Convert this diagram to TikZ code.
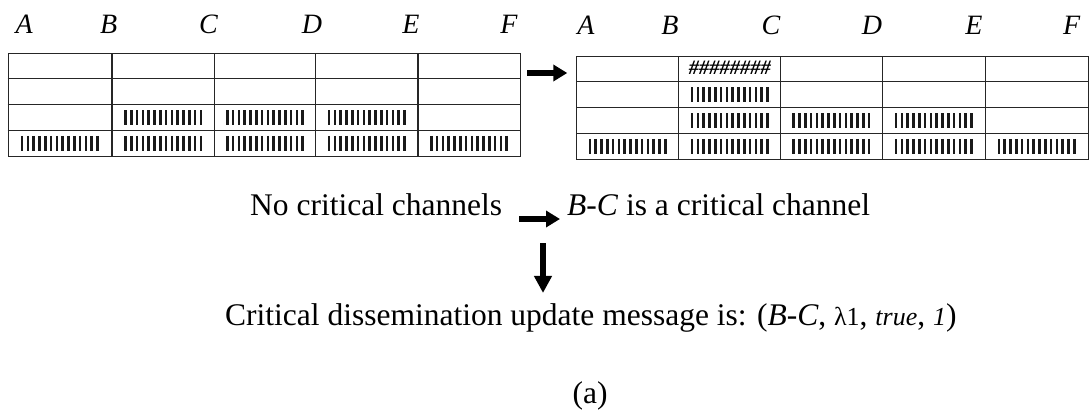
\documentclass[tikz,border=0pt]{standalone}
\usepackage{fontspec}
\setmainfont{Liberation Serif}
\usetikzlibrary{arrows.meta}
\tikzset{
  grid line/.style={line width=1.1pt, draw=black!85},
  table frame/.style={grid line, inner sep=0pt, anchor=north west},
  bar mark/.style={line width=2.6pt, black!90},
  col label/.style={font=\fontsize{28}{30}\selectfont\itshape, inner sep=0pt},
  body text/.style={font=\fontsize{31.5}{34}\selectfont, inner sep=0pt, anchor=base west},
  hash text/.style={font=\fontsize{20.5}{22}\selectfont\bfseries\itshape, inner sep=0pt},
  fat arrow/.style={line width=5.5pt, -{Triangle[length=14pt,width=16pt]}},
  bars/.pic={\foreach \k in {0,...,13} \draw[bar mark] ({-37.7+\k*5.8},-7.3) -- ++(0,14.6);},
}
\newcommand\smallpart[1]{{\fontsize{26}{28}\selectfont #1}}
\begin{document}
\begin{tikzpicture}[x=1pt,y=-1pt]
\useasboundingbox (0,0) rectangle (1090,413);

% column letters
\foreach \l/\x in {A/24.3,B/108.8,C/208.5,D/312,E/411,F/509}
  \node[col label] (l\l) at (\x,24) {\l};
\foreach \l/\x in {A/586,B/670,C/771,D/872,E/974,F/1071.6}
  \node[col label] (r\l) at (\x,25.5) {\l};

% left table: channel occupancy before
\node[table frame, minimum width=512.4pt, minimum height=103pt] (tabL) at (7.6,53) {};
\foreach \x in {112,214.5,315.6,418} \draw[grid line] (\x,53) -- (\x,156);
\foreach \y in {78.5,104.5,130.5} \draw[grid line] (7.6,\y) -- (520,\y);
\foreach \x in {163.25,265.05,366.8} \pic at (\x,117.5) {bars};
\foreach \x in {59.8,163.25,265.05,366.8,469} \pic at (\x,143.25) {bars};

% right table: channel occupancy after
\node[table frame, minimum width=511.4pt, minimum height=103pt] (tabR) at (576.3,56) {};
\foreach \x in {678.8,780.7,882.2,985.4} \draw[grid line] (\x,56) -- (\x,159);
\foreach \y in {81.5,107.5,133.5} \draw[grid line] (576.3,\y) -- (1087.7,\y);
\node[hash text] (hashes) at (729.75,67.5) {\#\#\#\#\#\#\#\#};
\pic at (729.75,94.5) {bars};
\foreach \x in {729.75,831.45,933.8} \pic at (\x,120.5) {bars};
\foreach \x in {627.55,729.75,831.45,933.8,1036.55} \pic at (\x,146.25) {bars};

\draw[fat arrow] ([shift={(6,20)}]tabL.north east) -- ([shift={(-9,17)}]tabR.north west);

% status texts
\node[body text] (nocrit) at (250,215) {No critical channels};
\node[body text] (isch) at (567,215) {\textit{B-C} is a critical channel};
\node[body text] (msg) at (225,325)
  {Critical dissemination update message is: (\textit{B-C}, \smallpart{λ1}, \smallpart{\itshape true}, \smallpart{\itshape 1})};
\node[font=\fontsize{31.5}{34}\selectfont, inner sep=0pt, anchor=base] (cap) at (590,403) {(a)};

\coordinate (h1) at ([shift={(-48,4)}]isch.base west);
\coordinate (v1) at (543,243);
\draw[fat arrow] (h1) -- ([shift={(-7,4)}]isch.base west);
\draw[fat arrow, shorten >=10pt, -{Triangle[length=17pt,width=17pt]}] (v1) -- (v1 |- msg.north);
\end{tikzpicture}
\end{document}
